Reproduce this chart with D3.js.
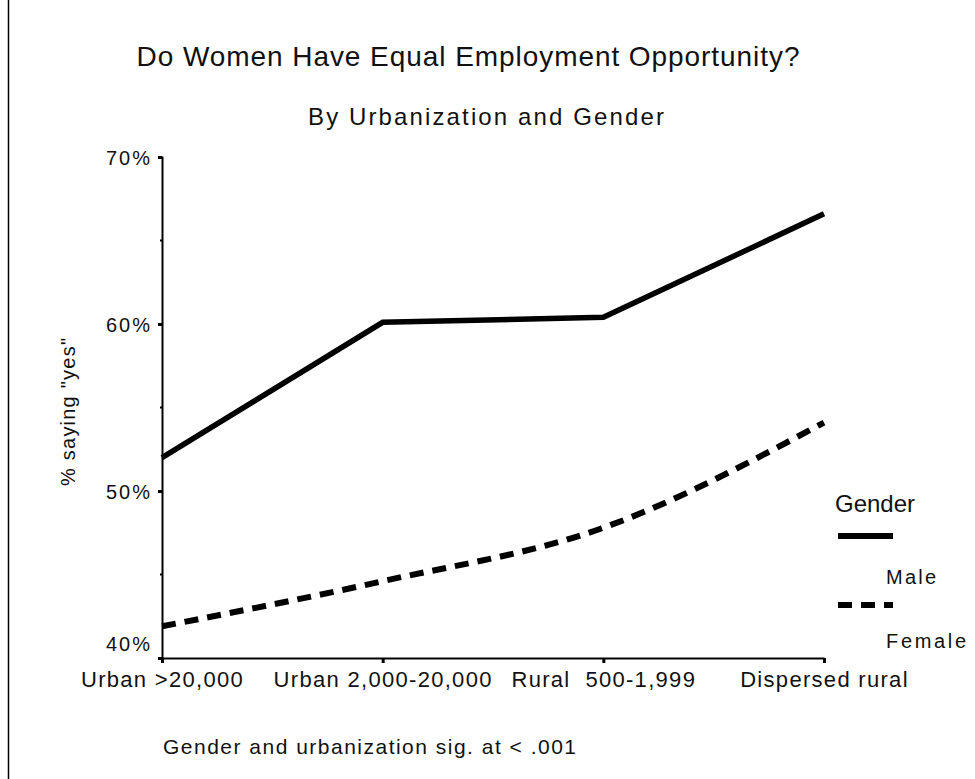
<!DOCTYPE html>
<html>
<head>
<meta charset="utf-8">
<script src="https://cdn.jsdelivr.net/npm/d3@7"></script>
<style>
  html, body { margin: 0; padding: 0; background: #fff; }
  svg { display: block; font-family: "Liberation Sans", Arial, sans-serif; }
</style>
</head>
<body>
<svg id="chart" width="975" height="779"></svg>
<script>
const categories = ["Urban >20,000", "Urban 2,000-20,000", "Rural  500-1,999", "Dispersed rural"];
const maleValues = [52.0, 60.1, 60.4, 66.6];
const femaleValues = [41.9, 44.6, 47.8, 54.1];
const yTickValues = [40, 50, 60, 70];
const yMinorTicks = [45, 55, 65];
const yTickLabels = ["40%", "50%", "60%", "70%"];
const seriesNames = ["Male", "Female"];

const svg = d3.select("#chart");
const ink = "#111";

// page border line at left
svg.append("line").attr("x1", 8.5).attr("x2", 8.5).attr("y1", 0).attr("y2", 779)
  .attr("stroke", "#000").attr("stroke-width", 1.5);

const x = d3.scalePoint().domain(categories).range([162, 824]);
const y = d3.scaleLinear().domain([40, 70]).range([658, 157]);

// titles
svg.append("text").attr("x", 468).attr("y", 66).attr("text-anchor", "middle")
  .attr("font-size", 28).attr("fill", ink)
  .attr("textLength", 663).attr("lengthAdjust", "spacing")
  .text("Do Women Have Equal Employment Opportunity?");
svg.append("text").attr("x", 486).attr("y", 125).attr("text-anchor", "middle")
  .attr("font-size", 24).attr("fill", ink)
  .attr("textLength", 356).attr("lengthAdjust", "spacing")
  .text("By Urbanization and Gender");

// y axis
const yAxis = d3.axisLeft(y).tickValues(yTickValues).tickSize(4)
  .tickFormat((d, i) => yTickLabels[i]);
const gy = svg.append("g").attr("transform", "translate(162,0)").call(yAxis);
gy.select(".domain").attr("stroke-width", 2);
gy.selectAll(".tick line").attr("stroke-width", 3);
gy.selectAll(".tick text").attr("font-size", 20).attr("x", -10).attr("dy", "0.35em")
  .attr("font-family", "Liberation Sans, Arial, sans-serif").attr("fill", ink)
  .attr("letter-spacing", 2);
// bottom label sits a little above the corner, as in the reference
gy.selectAll(".tick text").filter(d => d === y.domain()[0]).attr("y", -15);
gy.append("g").selectAll("line").data(yMinorTicks).join("line")
  .attr("x1", -2).attr("x2", 0).attr("y1", d => y(d)).attr("y2", d => y(d))
  .attr("stroke", "#000").attr("stroke-width", 2);

// x axis
const xAxis = d3.axisBottom(x).tickSize(5).tickSizeOuter(0);
const gx = svg.append("g").attr("transform", "translate(0,658)").call(xAxis);
gx.select(".domain").attr("stroke-width", 2);
gx.selectAll(".tick line").attr("stroke-width", 3);
gx.selectAll(".tick text").attr("font-size", 22).attr("y", 13)
  .attr("font-family", "Liberation Sans, Arial, sans-serif").attr("fill", ink)
  .attr("letter-spacing", 1.3)
  .style("white-space", "pre");

// y axis label
svg.append("text").attr("transform", "translate(75,412) rotate(-90)")
  .attr("text-anchor", "middle").attr("font-size", 20).attr("fill", ink)
  .attr("textLength", 148).attr("lengthAdjust", "spacing")
  .text('% saying "yes"');

// lines
const maleLine = d3.line().x((d, i) => x(categories[i])).y(d => y(d));
const femaleLine = d3.line().x((d, i) => x(categories[i])).y(d => y(d)).curve(d3.curveMonotoneX);

svg.append("path").datum(maleValues).attr("d", maleLine)
  .attr("fill", "none").attr("stroke", "#000").attr("stroke-width", 5.5);
svg.append("path").datum(femaleValues).attr("d", femaleLine)
  .attr("fill", "none").attr("stroke", "#000").attr("stroke-width", 6)
  .attr("stroke-dasharray", "14,9");

// legend
const lg = svg.append("g");
lg.append("text").attr("x", 835).attr("y", 512).attr("font-size", 24).attr("fill", ink)
  .attr("textLength", 80).attr("lengthAdjust", "spacing").text("Gender");
lg.append("line").attr("x1", 838).attr("x2", 893).attr("y1", 536).attr("y2", 536)
  .attr("stroke", "#000").attr("stroke-width", 6);
lg.append("text").attr("x", 886).attr("y", 584).attr("font-size", 20).attr("fill", ink)
  .attr("textLength", 50).attr("lengthAdjust", "spacing").text(seriesNames[0]);
lg.append("line").attr("x1", 838).attr("x2", 893).attr("y1", 605).attr("y2", 605)
  .attr("stroke", "#000").attr("stroke-width", 6).attr("stroke-dasharray", "14,9");
lg.append("text").attr("x", 886).attr("y", 648).attr("font-size", 20).attr("fill", ink)
  .attr("textLength", 80).attr("lengthAdjust", "spacing").text(seriesNames[1]);

// footnote
svg.append("text").attr("x", 163).attr("y", 754).attr("font-size", 21).attr("fill", ink)
  .attr("textLength", 413).attr("lengthAdjust", "spacing")
  .text("Gender and urbanization sig. at < .001");
</script>
</body>
</html>
